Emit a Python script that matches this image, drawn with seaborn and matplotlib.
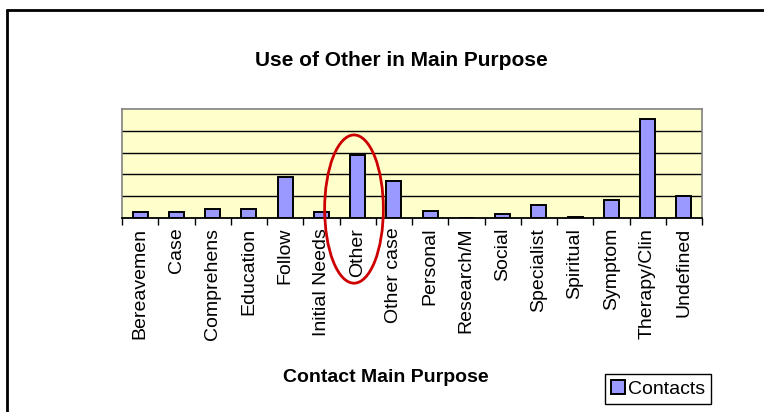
import matplotlib
matplotlib.use('Agg')
import matplotlib.pyplot as plt
import seaborn as sns
from matplotlib.patches import Ellipse
from matplotlib.lines import Line2D

# chart data
categories = ['Bereavemen', 'Case', 'Comprehens', 'Education', 'Follow',
              'Initial Needs', 'Other', 'Other case', 'Personal', 'Research/M',
              'Social', 'Specialist', 'Spiritual', 'Symptom', 'Therapy/Clin',
              'Undefined']
contacts = [26, 26, 41, 41, 186, 26, 290, 172, 34, 0, 20, 61, 6, 82, 456, 102]
grid_ticks = [100, 200, 300, 400]
highlight = 'Other'

sns.set_style("white")
plt.rcParams['font.family'] = ['Liberation Sans', 'DejaVu Sans']
plt.rcParams['text.color'] = 'black'
plt.rcParams['xtick.color'] = 'black'
plt.rcParams['xtick.labelcolor'] = 'black'

fig = plt.figure(figsize=(7.64, 4.12), dpi=100)
ax = fig.add_axes([122 / 764, 1 - 218 / 412, 580 / 764, 109 / 412])
ax.set_facecolor('#FFFFCC')

sns.barplot(x=categories, y=contacts, color='#9999FF', edgecolor='black',
            linewidth=1.4, width=0.42, saturation=1, ax=ax, label='Contacts',
            zorder=3)

ax.set_xlim(-0.5, len(categories) - 0.5)
ax.set_ylim(0, 500)
ax.set_yticks(grid_ticks)
ax.set_yticklabels([])
ax.tick_params(axis='y', length=0)
for y in grid_ticks:
    ax.axhline(y, color='black', lw=1, zorder=1)

# ticks between categories, labels centered
ax.set_xticks(range(len(categories)))
ax.set_xticklabels(categories, rotation=90, fontsize=14, va='top',
                   color='black')
ax.set_xticks([i - 0.5 for i in range(len(categories) + 1)], minor=True)
ax.tick_params(axis='x', which='major', length=0, pad=7)
ax.tick_params(axis='x', which='minor', length=5, width=1, color='black',
               direction='out', bottom=True)
ax.set_xlabel('')
ax.set_ylabel('')

for side in ['top', 'right', 'left']:
    ax.spines[side].set_color('#808080')
    ax.spines[side].set_linewidth(1.2)
ax.spines['bottom'].set_color('black')
ax.spines['bottom'].set_linewidth(1.3)

# red circle round the "Other" bar
xi = categories.index(highlight)
ax.add_patch(Ellipse((xi - 0.1, 41), width=1.62, height=680, fill=False,
                     edgecolor='#CC0000', lw=2, clip_on=False, zorder=5))

fig.text(401 / 764, 1 - 60 / 412, 'Use of Other in Main Purpose',
         ha='center', va='center', fontsize=15, fontweight='bold',
         color='black')
fig.text(386 / 764, 1 - 377 / 412, 'Contact Main Purpose',
         ha='center', va='center', fontsize=14, fontweight='bold',
         color='black')

leg = ax.legend(loc='center', bbox_to_anchor=(658 / 764, 1 - 389 / 412),
                bbox_transform=fig.transFigure, fontsize=14, frameon=True,
                fancybox=False, edgecolor='black', framealpha=1,
                handlelength=0.7, handleheight=0.7, handletextpad=0.15,
                borderpad=0.3, borderaxespad=0)
for t in leg.get_texts():
    t.set_color('black')

# outer frame (left and top edges visible)
fig.add_artist(Line2D([6.5 / 764, 6.5 / 764], [0, 1 - 9.5 / 412],
                      color='black', lw=2))
fig.add_artist(Line2D([6.5 / 764, 1], [1 - 9.5 / 412, 1 - 9.5 / 412],
                      color='black', lw=2))

fig.savefig('out.png', dpi=100)
